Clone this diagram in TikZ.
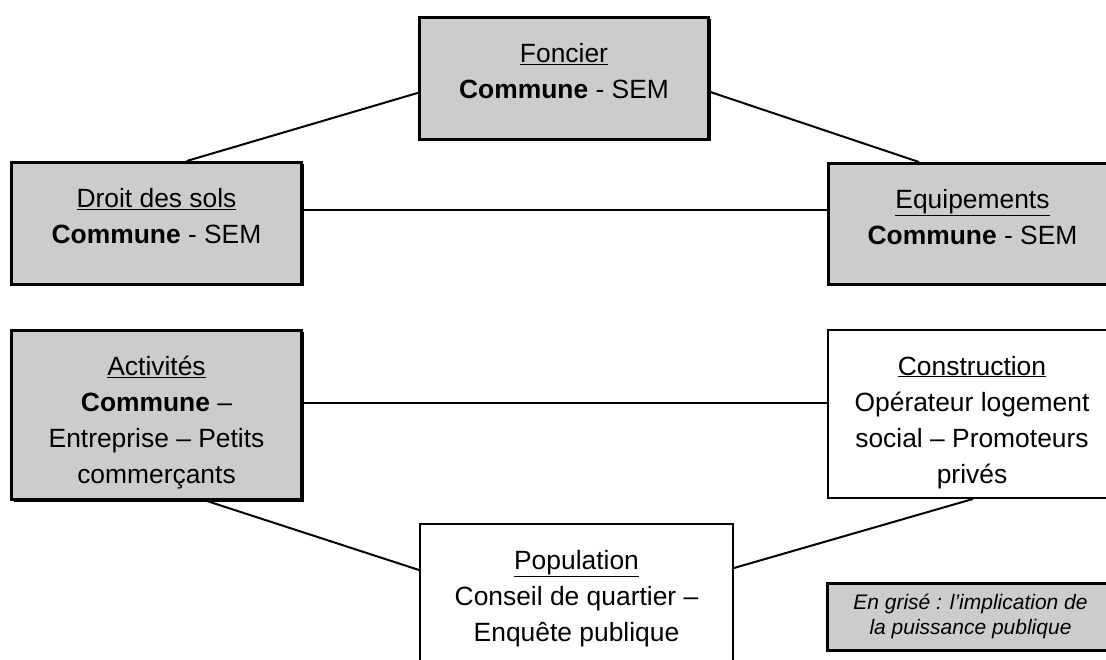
\documentclass[tikz,border=0pt]{standalone}
\usepackage{fontspec}
\setmainfont{Liberation Sans}
\usetikzlibrary{calc,shadows}
\definecolor{boxgray}{RGB}{204,204,204}
% text of a field box: lines centred, first baseline 45pt below the top edge
\newcommand{\fieldtext}[3]{\parbox[t][#2][t]{#1}{\centering\rule{0pt}{45pt}#3}}
\begin{document}
\begin{tikzpicture}[x=1pt,y=-1pt,
  boxtext/.style={anchor=north west, inner sep=0pt,
    font=\fontsize{26.4}{36}\selectfont},
  graybox/.style={boxtext, rectangle, draw=black, line width=3pt, fill=boxgray,
    drop shadow={shadow xshift=2pt, shadow yshift=-2pt, fill=black, opacity=1}},
  whitebox/.style={boxtext, rectangle, draw=black, line width=2pt, fill=white},
  link/.style={draw=black, line width=2pt}]
\useasboundingbox (0,0) rectangle (1106,660);
\clip (0,0) rectangle (1106,660);

% upper group: the three public-authority fields
\node[graybox] (foncier) at (418,16)
  {\fieldtext{289pt}{122pt}{\underline{Foncier}\\\textbf{Commune} - SEM}};
\node[graybox] (droit) at (10,161)
  {\fieldtext{290pt}{122pt}{\underline{Droit des sols}\\\textbf{Commune} - SEM}};
\node[graybox] (equip) at (827,162)
  {\fieldtext{288pt}{121pt}{\underline{Equipements}\\\textbf{Commune} - SEM}};

% lower group
\node[graybox] (activ) at (10,329)
  {\fieldtext{290pt}{169pt}{\underline{Activités}\\\textbf{Commune} –\\Entreprise – Petits\\commerçants}};
\node[whitebox] (constr) at (827,329)
  {\fieldtext{288pt}{168pt}{\underline{Construction}\\Opérateur logement\\social – Promoteurs\\privés}};
\node[whitebox] (pop) at (419,523)
  {\fieldtext{313pt}{200pt}{\underline{Population}\\Conseil de quartier –\\Enquête publique}};

% legend
\node[graybox, anchor=center, minimum width=287pt, minimum height=67pt,
  align=center, font=\itshape\fontsize{21}{25}\selectfont] (legend) at (970.5,616.5)
  {En grisé : l’implication de\\la puissance publique};

% links between the fields
\path[link] ($(droit.north west)!0.603!(droit.north east)$)
  -- ($(foncier.north west)!0.615!(foncier.south west)$);
\path[link] ($(foncier.north east)!0.607!(foncier.south east)$)
  -- ($(equip.north west)!0.316!(equip.north east)$);
\coordinate (dr) at ($(droit.north east)!0.393!(droit.south east)$);
\path[link] (dr) -- (dr -| equip.west);
\coordinate (ac) at ($(activ.north east)!0.432!(activ.south east)$);
\path[link] (ac) -- (ac -| constr.west);
\path[link] ($(activ.south west)!0.672!(activ.south east)$)
  -- ($(pop.north west)+(0,47)$);
\path[link] ($(pop.north east)+(0,45)$)
  -- ($(constr.south west)!0.503!(constr.south east)$);
\end{tikzpicture}
\end{document}
